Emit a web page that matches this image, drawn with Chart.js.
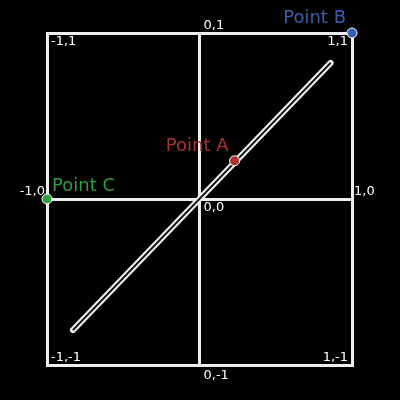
<!DOCTYPE html>
<html>
<head>
<script src="https://cdn.jsdelivr.net/npm/chart.js@4"></script>
<style>
  html, body { margin: 0; background: #000; }
  #wrap { width: 400px; height: 400px; }
</style>
</head>
<body>
<div id="wrap"><canvas id="myChart"></canvas></div>
<script>
const lineX = [-0.83, 0.86];
const lineY = [-0.79, 0.82];
const pointNames = ['Point A', 'Point B', 'Point C'];
const pointX = [0.23, 1, -1];
const pointY = [0.23, 1, 0];
const pointColors = ['#a83232', '#3a5fb0', '#2e9e3e'];
const cornerX = [-1, 0, 1, -1, 0, 1, -1, 0, 1];
const cornerY = [1, 1, 1, 0, 0, 0, -1, -1, -1];

const cornerLabels = {
    id: 'cornerLabels',
    afterDatasetsDraw(chart) {
        const { ctx, scales: { x, y } } = chart;
        ctx.save();
        ctx.font = '13px "DejaVu Sans"';
        ctx.fillStyle = '#fff';
        cornerX.forEach((cx, i) => {
            const cy = cornerY[i];
            const px = x.getPixelForValue(cx);
            const py = y.getPixelForValue(cy);
            const text = cx + ',' + cy;
            let dx = 4, dy = 12, align = 'left';
            if (cx === 1) { align = 'right'; dx = -4; }
            if (cy === -1 && cx !== 0) { dy = -4; }
            if (cy === 1 && cx === 0) { dy = -4; }
            if (cy === -1 && cx === 0) { dy = 14; }
            if (cy === 0 && cx === -1) { align = 'right'; dx = -2; dy = -4; }
            if (cy === 0 && cx === 1) { align = 'left'; dx = 2; dy = -4; }
            ctx.textAlign = align;
            ctx.fillText(text, px + dx, py + dy);
        });
        ctx.font = '18px "DejaVu Sans"';
        pointNames.forEach((n, i) => {
            const px = x.getPixelForValue(pointX[i]);
            const py = y.getPixelForValue(pointY[i]);
            ctx.fillStyle = pointColors[i];
            if (i === 2) { ctx.textAlign = 'left'; ctx.fillText(n, px + 5, py - 8); }
            else { ctx.textAlign = 'right'; ctx.fillText(n, px - 6, py - 10); }
        });
        ctx.restore();
    }
};

const ctx = document.getElementById('myChart');
const myChart = new Chart(ctx, {
    type: 'scatter',
    data: {
        datasets: [
            {
                data: pointX.map((v, i) => ({ x: v, y: pointY[i] })),
                backgroundColor: pointColors,
                borderColor: '#fff',
                borderWidth: 1,
                pointRadius: 5,
                showLine: false,
                clip: false
            },
            {
                data: lineX.map((v, i) => ({ x: v, y: lineY[i] })),
                showLine: true,
                borderColor: '#111',
                borderWidth: 2,
                pointRadius: 0
            },
            {
                data: lineX.map((v, i) => ({ x: v, y: lineY[i] })),
                showLine: true,
                borderColor: '#eee',
                borderWidth: 6,
                pointRadius: 0,
                borderCapStyle: 'round'
            }
        ]
    },
    options: {
        responsive: true,
        maintainAspectRatio: false,
        animation: false,
        layout: { padding: { left: 47, right: 48, top: 33, bottom: 35 } },
        plugins: { legend: { display: false }, tooltip: { enabled: false } },
        scales: {
            x: {
                min: -1, max: 1,
                ticks: { display: false, stepSize: 1 },
                grid: { color: '#eee', lineWidth: 3, drawTicks: false },
                border: { color: '#eee', width: 3 }
            },
            y: {
                min: -1, max: 1,
                ticks: { display: false, stepSize: 1 },
                grid: { color: '#eee', lineWidth: 3, drawTicks: false },
                border: { color: '#eee', width: 3 }
            }
        }
    },
    plugins: [cornerLabels]
});
</script>
</body>
</html>
